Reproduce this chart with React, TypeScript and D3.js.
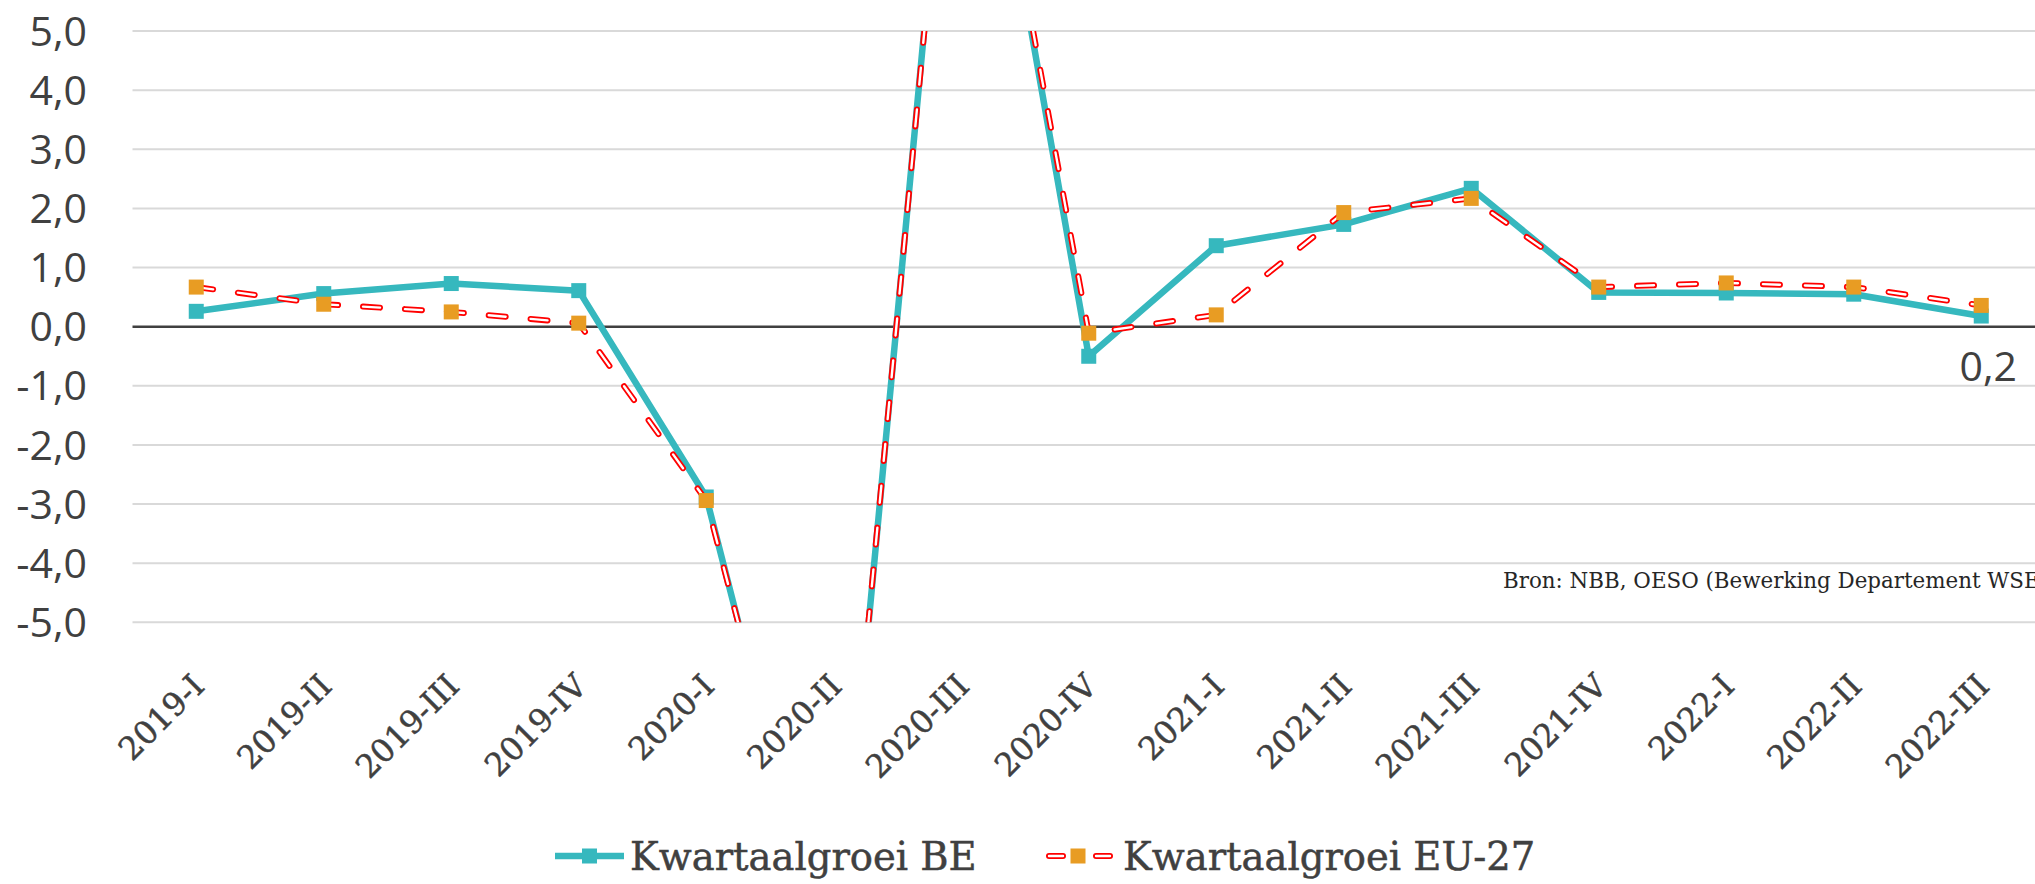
import React from "react";
import * as d3 from "d3";

const categories = ["2019-I","2019-II","2019-III","2019-IV","2020-I","2020-II","2020-III","2020-IV","2021-I","2021-II","2021-III","2021-IV","2022-I","2022-II","2022-III"];
const growthBE = [0.26, 0.56, 0.73, 0.61, -2.88, -11.3, 11.7, -0.5, 1.37, 1.73, 2.34, 0.58, 0.57, 0.55, 0.18];
const growthEU = [0.67, 0.38, 0.25, 0.06, -2.94, -11.2, 11.6, -0.11, 0.2, 1.93, 2.17, 0.67, 0.74, 0.67, 0.36];
const yTicks = [-5, -4, -3, -2, -1, 0, 1, 2, 3, 4, 5];
const seriesNames = ["Kwartaalgroei BE", "Kwartaalgroei EU-27"];
const sourceNote = "Bron: NBB, OESO (Bewerking Departement WSE)";

const W = 2035, H = 884;
const TEAL = "#36B8BE", ORANGE = "#E89C23", RED = "#FF0000", TXT = "#404040";
const serif = "'DejaVu Serif', serif";
const sans = "'Open Sans', 'Noto Sans', sans-serif";

const locale = d3.formatLocale({ decimal: ",", thousands: ".", grouping: [3], currency: ["€", ""], minus: "-" });
const fmt = locale.format(".1f");

export default function App() {
  const left = 132.5, band = 127.5;
  const x = d3.scalePoint<string>().domain(categories).range([left, left + band * categories.length]).padding(0.5);
  const y = d3.scaleLinear().domain([-5, 5]).range([622.35, 31.05]);
  const lineGen = d3.line<number>().x((_, i) => x(categories[i]) as number).y((d) => y(d));
  const ms = 15;
  const dash = "17 25";

  const lastX = x(categories[categories.length - 1]) as number;
  const lastV = growthBE[growthBE.length - 1];

  return (
    <svg width={W} height={H} style={{ position: "absolute", left: 0, top: 0, background: "#fff" }}>
      <defs>
        <clipPath id="plot">
          <rect x={left} y={y(5)} width={W - left} height={y(-5) - y(5)} />
        </clipPath>
      </defs>
      {yTicks.map((t) => (
        <line key={"g" + t} x1={left} x2={W} y1={y(t)} y2={y(t)} stroke={t === 0 ? "#404040" : "#D9D9D9"} strokeWidth={t === 0 ? 2.5 : 2} />
      ))}
      {yTicks.map((t) => (
        <text key={"l" + t} x={87} y={y(t) + 14.6} textAnchor="end" fontFamily={sans} fontSize={41} fill={TXT}>{fmt(t)}</text>
      ))}
      {categories.map((c) => (
        <text key={c} transform={`translate(${(x(c) as number) + 10},${688}) rotate(-45)`} textAnchor="end" fontFamily={serif} fontSize={32} fill={TXT} stroke={TXT} strokeWidth={0.5}>{c}</text>
      ))}
      <g clipPath="url(#plot)">
        <path d={lineGen(growthBE) || ""} fill="none" stroke={TEAL} strokeWidth={6.5} strokeLinejoin="round" />
        {growthBE.map((v, i) => (
          <rect key={"mb" + i} x={(x(categories[i]) as number) - ms / 2} y={y(v) - ms / 2} width={ms} height={ms} fill={TEAL} />
        ))}
        <path d={lineGen(growthEU) || ""} fill="none" stroke={RED} strokeWidth={6} strokeDasharray={dash} strokeLinecap="round" />
        <path d={lineGen(growthEU) || ""} fill="none" stroke="#fff" strokeWidth={2.4} strokeDasharray={dash} strokeLinecap="round" />
        {growthEU.map((v, i) => (
          <rect key={"me" + i} x={(x(categories[i]) as number) - ms / 2} y={y(v) - ms / 2} width={ms} height={ms} fill={ORANGE} />
        ))}
      </g>
      <text x={lastX + 7} y={y(lastV) + 65} textAnchor="middle" fontFamily={sans} fontSize={41} fill={TXT}>{fmt(lastV)}</text>
      <text x={1503} y={588} fontFamily={serif} fontSize={21.4} fill="#262626">{sourceNote}</text>
      <g>
        <line x1={555} x2={624} y1={856} y2={856} stroke={TEAL} strokeWidth={6.5} />
        <rect x={589.5 - ms / 2} y={856 - ms / 2} width={ms} height={ms} fill={TEAL} />
        <text x={630} y={870} fontFamily={serif} fontSize={38.5} fill={TXT} stroke={TXT} strokeWidth={0.5}>{seriesNames[0]}</text>
        <line x1={1049} x2={1110} y1={856} y2={856} stroke={RED} strokeWidth={6} strokeDasharray="14 33" strokeLinecap="round" />
        <line x1={1049} x2={1110} y1={856} y2={856} stroke="#fff" strokeWidth={2.4} strokeDasharray="14 33" strokeLinecap="round" />
        <rect x={1078 - ms / 2} y={856 - ms / 2} width={ms} height={ms} fill={ORANGE} />
        <text x={1123} y={870} fontFamily={serif} fontSize={38.5} fill={TXT} stroke={TXT} strokeWidth={0.5}>{seriesNames[1]}</text>
      </g>
    </svg>
  );
}
